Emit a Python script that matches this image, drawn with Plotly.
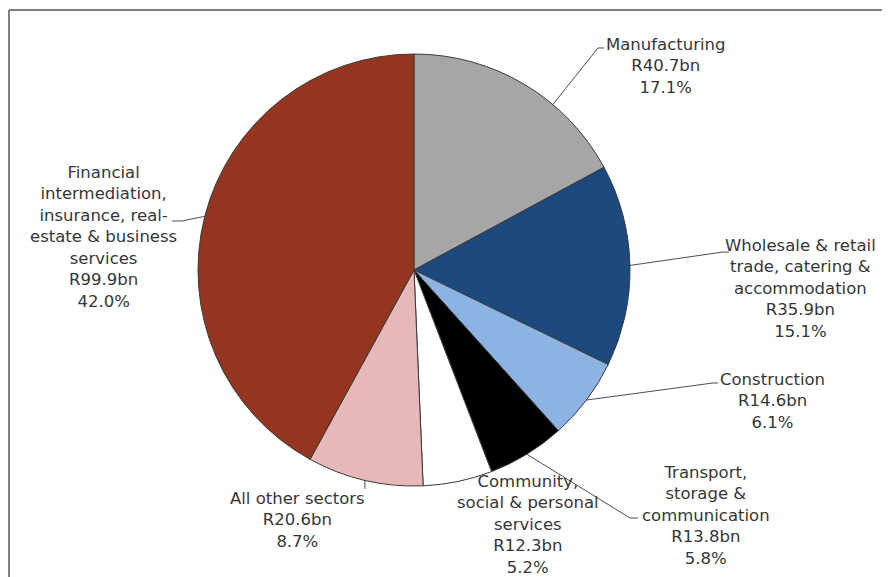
import numpy as np
import plotly.graph_objects as go

# sector data (South Africa, R billion and share of total)
sector_lines = [
    "Manufacturing",
    "Wholesale & retail<br>trade, catering &<br>accommodation",
    "Construction",
    "Transport,<br>storage &<br>communication",
    "Community,<br>social & personal<br>services",
    "All other sectors",
    "Financial<br>intermediation,<br>insurance, real-<br>estate & business<br>services",
]
values_bn = [40.7, 35.9, 14.6, 13.8, 12.3, 20.6, 99.9]
shares_pct = [17.1, 15.1, 6.1, 5.8, 5.2, 8.7, 42.0]
colors = ["#a6a6a6", "#1c4a7e", "#8db3e2", "#000000", "#ffffff", "#e6b9b8", "#93351f"]

W, H = 890, 577
OFF = 8  # page body margin: figure is drawn 8px right/down of the window corner
CX, CY, R = 414, 270, 216  # pie centre / radius in window pixels


def px(x, y):
    return (x - OFF) / W, 1 - (y - OFF) / H


# label placement: text centre, leader elbow, leader end (window pixels), optional attach angle
label_pos = [
    dict(text=(665, 66), elbow=(598, 48), end=(604, 48), angle=40),
    dict(text=(800, 288), elbow=(723, 252), end=(729, 252)),
    dict(text=(772, 401), elbow=(713, 383), end=(718, 383)),
    dict(text=(706, 515), elbow=(630, 518), end=(638, 518)),
    dict(text=(528, 524)),
    dict(text=(297, 520), elbow=None, end=(365, 489)),
    dict(text=(103, 237), elbow=(182, 221), end=(172, 221)),
]

vals = np.array(values_bn)
cum = np.cumsum(vals)
mid_deg = (cum - vals / 2) / vals.sum() * 360  # clockwise from 12 o'clock

fig = go.Figure()
x0, y0 = px(CX - R, CY + R)
x1, y1 = px(CX + R, CY - R)
fig.add_trace(go.Pie(
    values=values_bn,
    labels=[s.replace("<br>", " ") for s in sector_lines],
    marker=dict(colors=colors, line=dict(color="#3a3a3a", width=1)),
    sort=False,
    direction="clockwise",
    rotation=0,
    textinfo="none",
    showlegend=False,
    domain=dict(x=[x0, x1], y=[y0, y1]),
))

annotations = []
shapes = []
for i, pos in enumerate(label_pos):
    tx, ty = px(*pos["text"])
    annotations.append(dict(
        x=tx, y=ty, xref="paper", yref="paper",
        text=f"{sector_lines[i]}<br>R{values_bn[i]}bn<br>{shares_pct[i]:.1f}%",
        showarrow=False, xanchor="center", yanchor="middle", align="center",
        font=dict(family="DejaVu Sans", size=16.5, color="#363636"),
    ))
    if "end" not in pos:
        continue
    a = np.radians(pos.get("angle", mid_deg[i]))
    ex, ey = CX + R * np.sin(a), CY - R * np.cos(a)
    pts = [(ex, ey)]
    if pos["elbow"] is not None:
        pts.append(pos["elbow"])
    pts.append(pos["end"])
    path = "M " + " L ".join(f"{px(x, y)[0]:.5f},{px(x, y)[1]:.5f}" for x, y in pts)
    shapes.append(dict(type="path", path=path, xref="paper", yref="paper",
                       line=dict(color="#4d4d4d", width=1)))

# frame (top and left edges)
fx, fy = px(9, 10)
shapes.append(dict(type="line", xref="paper", yref="paper",
                   x0=fx, y0=fy, x1=1, y1=fy,
                   line=dict(color="#7f7f7f", width=2)))
shapes.append(dict(type="line", xref="paper", yref="paper",
                   x0=fx, y0=fy, x1=fx, y1=0,
                   line=dict(color="#7f7f7f", width=2)))

fig.update_layout(
    width=W, height=H,
    margin=dict(l=0, r=0, t=0, b=0),
    paper_bgcolor="white",
    plot_bgcolor="white",
    annotations=annotations,
    shapes=shapes,
)

fig.write_html("out.html")
